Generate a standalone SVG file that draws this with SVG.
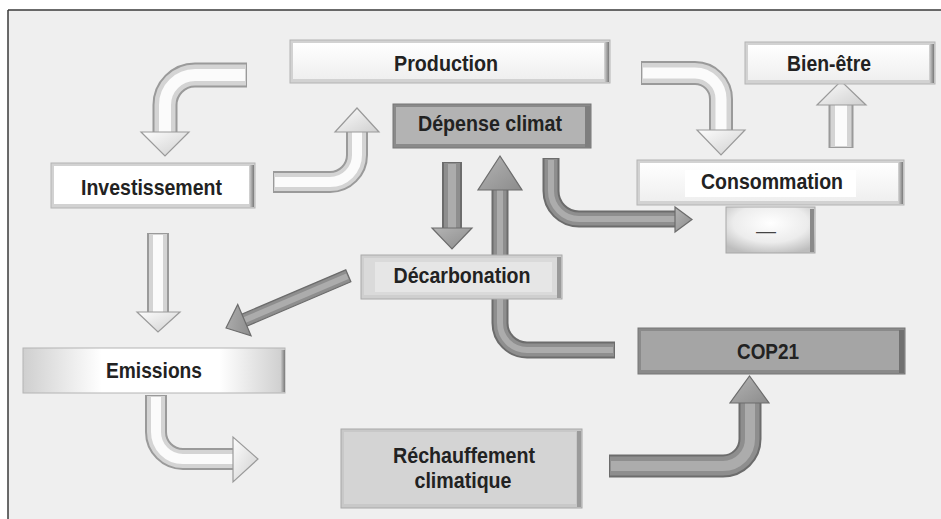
<svg xmlns="http://www.w3.org/2000/svg" width="941" height="519" viewBox="0 0 941 519">
<defs>
<linearGradient id="faceLight" x1="0" y1="0" x2="0" y2="1"><stop offset="0" stop-color="#ffffff"/><stop offset="1" stop-color="#efefef"/></linearGradient>
<linearGradient id="rightShade" x1="0" y1="0" x2="1" y2="0"><stop offset="0" stop-color="#d8d8d8"/><stop offset="1" stop-color="#7a7a7a"/></linearGradient>
<linearGradient id="emis" x1="0" y1="0" x2="1" y2="0"><stop offset="0" stop-color="#cfcfcf"/><stop offset="0.3" stop-color="#ffffff"/><stop offset="0.75" stop-color="#ffffff"/><stop offset="1" stop-color="#cdcdcd"/></linearGradient>
<radialGradient id="dashBox" cx="0.5" cy="0.35" r="0.7"><stop offset="0" stop-color="#ffffff"/><stop offset="0.6" stop-color="#ececec"/><stop offset="1" stop-color="#bdbdbd"/></radialGradient>
<linearGradient id="wHeadG" x1="0" y1="0" x2="1" y2="1"><stop offset="0" stop-color="#fdfdfd"/><stop offset="1" stop-color="#cfcfcf"/></linearGradient>
<linearGradient id="gHeadG" x1="0" y1="0" x2="1" y2="1"><stop offset="0" stop-color="#b4b4b4"/><stop offset="1" stop-color="#8c8c8c"/></linearGradient>
<style>
.lbl{font-family:"Liberation Sans",Arial,sans-serif;font-weight:bold;font-size:22px;fill:#222;text-anchor:middle}
.edgeL{fill:#d2d2d2;stroke:#b4b4b4;stroke-width:1}
.edgeD{fill:#8a8a8a;stroke:#767676;stroke-width:1}
.w1{fill:none;stroke:#9a9a9a}
.w2{fill:none;stroke:#d4d4d4}
.w3{fill:none;stroke:#fbfbfb}
.g1{fill:none;stroke:#6c6c6c}
.g2{fill:none;stroke:#8e8e8e}
.g3{fill:none;stroke:#acacac}
.wHead{fill:url(#wHeadG);stroke:#9a9a9a;stroke-width:1.2;stroke-linejoin:miter}
.gHead{fill:url(#gHeadG);stroke:#6c6c6c;stroke-width:1.2;stroke-linejoin:miter}
</style>
</defs>

<rect x="0" y="0" width="941" height="519" fill="#ffffff"/>
<rect x="8" y="10" width="933" height="509" fill="#efefef"/>
<line x1="8" y1="10" x2="941" y2="10" stroke="#3a3a3a" stroke-width="1.5"/>
<line x1="8" y1="10" x2="8" y2="519" stroke="#3a3a3a" stroke-width="1.5"/>

<g id="connectors">
  <!-- Production -> Investissement -->
  <g>
    <path class="w1" stroke-width="25" d="M247,75 H195 A30,30 0 0 0 165,105 V134"/>
    <path class="w2" stroke-width="21" d="M246,75 H195 A30,30 0 0 0 165,105 V134"/>
    <path class="w3" stroke-width="12" d="M245,75 H195 A30,30 0 0 0 165,105 V134"/>
    <polygon class="wHead" points="141,132 189,132 165,156"/>
  </g>
  <!-- Investissement -> Production -->
  <g>
    <path class="w1" stroke-width="22" d="M273,182 H330 A27,27 0 0 0 357,155 V131"/>
    <path class="w2" stroke-width="18" d="M274,182 H330 A27,27 0 0 0 357,155 V131"/>
    <path class="w3" stroke-width="10" d="M275,182 H330 A27,27 0 0 0 357,155 V131"/>
    <polygon class="wHead" points="335,132 379,132 357,108"/>
  </g>
  <!-- Production -> Consommation -->
  <g>
    <path class="w1" stroke-width="24" d="M641,73 H695 A26,26 0 0 1 721,99 V132"/>
    <path class="w2" stroke-width="20" d="M642,73 H695 A26,26 0 0 1 721,99 V132"/>
    <path class="w3" stroke-width="11" d="M643,73 H695 A26,26 0 0 1 721,99 V132"/>
    <polygon class="wHead" points="697,130 745,130 721,155"/>
  </g>
  <!-- Consommation -> Bien-etre -->
  <g>
    <path class="w1" stroke-width="25" d="M841,148 V103"/>
    <path class="w2" stroke-width="21" d="M841,147 V103"/>
    <path class="w3" stroke-width="12" d="M841,146 V103"/>
    <polygon class="wHead" points="817,105 866,105 841,81"/>
  </g>
  <!-- Investissement -> Emissions -->
  <g>
    <path class="w1" stroke-width="22" d="M158,233 V314"/>
    <path class="w2" stroke-width="18" d="M158,234 V314"/>
    <path class="w3" stroke-width="10" d="M158,235 V314"/>
    <polygon class="wHead" points="137,312 180,312 158,332"/>
  </g>
  <!-- Emissions -> Rechauffement -->
  <g>
    <path class="w1" stroke-width="22" d="M156,395 V432 A27,27 0 0 0 183,459 H235"/>
    <path class="w2" stroke-width="18" d="M156,396 V432 A27,27 0 0 0 183,459 H235"/>
    <path class="w3" stroke-width="10" d="M156,397 V432 A27,27 0 0 0 183,459 H235"/>
    <polygon class="wHead" points="233,437 233,482 258,459"/>
  </g>
  <!-- Depense climat -> Decarbonation -->
  <g>
    <path class="g1" stroke-width="20" d="M452,162 V230"/>
    <path class="g2" stroke-width="16" d="M452,163 V230"/>
    <path class="g3" stroke-width="8" d="M452,164 V230"/>
    <polygon class="gHead" points="432,228 472,228 452,249"/>
  </g>
  <!-- COP21 -> Depense climat -->
  <g>
    <path class="g1" stroke-width="17" d="M615,350 H527 A27,27 0 0 1 500,323 V188"/>
    <path class="g2" stroke-width="13" d="M614,350 H527 A27,27 0 0 1 500,323 V188"/>
    <path class="g3" stroke-width="6" d="M613,350 H527 A27,27 0 0 1 500,323 V188"/>
    <polygon class="gHead" points="478,190 522,190 500,156"/>
  </g>
  <!-- Depense climat -> Consommation -->
  <g>
    <path class="g1" stroke-width="17" d="M551,158 V191 A28,28 0 0 0 579,219 H677"/>
    <path class="g2" stroke-width="13" d="M551,159 V191 A28,28 0 0 0 579,219 H677"/>
    <path class="g3" stroke-width="6" d="M551,160 V191 A28,28 0 0 0 579,219 H677"/>
    <polygon class="gHead" points="675,207 675,232 692,219.5"/>
  </g>
  <!-- Decarbonation -> Emissions -->
  <g transform="translate(226,328) rotate(-23.1)">
    <rect x="17" y="-6.5" width="116" height="13" fill="#8e8e8e" stroke="#6c6c6c" stroke-width="1.2"/>
    <rect x="17" y="-3" width="115" height="6" fill="#acacac"/>
    <polygon class="gHead" points="0,0 20,-17 20,17"/>
  </g>
  <!-- Rechauffement -> COP21 -->
  <g>
    <path class="g1" stroke-width="23" d="M609,466 H723 A27,27 0 0 0 750,439 V401"/>
    <path class="g2" stroke-width="19" d="M610,466 H723 A27,27 0 0 0 750,439 V401"/>
    <path class="g3" stroke-width="10" d="M611,466 H723 A27,27 0 0 0 750,439 V401"/>
    <polygon class="gHead" points="730,403 769,403 749.5,376"/>
  </g>
</g>

<g id="node-production">
  <rect class="edgeL" x="290" y="40" width="320" height="43"/>
  <rect x="293" y="43" width="311" height="36" fill="url(#faceLight)"/>
  <rect x="604" y="42" width="5" height="40" fill="url(#rightShade)"/>
  <text class="lbl" x="446" y="71" textLength="104" lengthAdjust="spacingAndGlyphs">Production</text>
</g>

<g id="node-depense">
  <rect class="edgeD" x="393" y="104" width="198" height="44"/>
  <rect x="396" y="107" width="189" height="37" fill="#b3b3b3"/>
  <rect x="585" y="106" width="5" height="41" fill="#7e7e7e"/>
  <text class="lbl" x="490" y="131" textLength="144" lengthAdjust="spacingAndGlyphs">Dépense climat</text>
</g>

<g id="node-bienetre">
  <rect class="edgeL" x="745" y="42" width="190" height="42"/>
  <rect x="748" y="45" width="181" height="35" fill="url(#faceLight)"/>
  <rect x="929" y="44" width="5" height="39" fill="url(#rightShade)"/>
  <text class="lbl" x="829" y="71" textLength="84" lengthAdjust="spacingAndGlyphs">Bien-être</text>
</g>

<g id="node-consommation">
  <rect class="edgeL" x="637" y="160" width="267" height="45"/>
  <rect x="640" y="163" width="258" height="38" fill="url(#faceLight)"/>
  <rect x="685" y="170" width="171" height="27" fill="#ffffff"/>
  <rect x="898" y="162" width="5" height="42" fill="url(#rightShade)"/>
  <text class="lbl" x="772" y="189" textLength="142" lengthAdjust="spacingAndGlyphs">Consommation</text>
</g>

<g id="node-dash">
  <rect x="726" y="207" width="89" height="46" fill="url(#dashBox)" stroke="#a8a8a8" stroke-width="1"/>
  <rect x="810" y="209" width="4" height="43" fill="#8a8a8a"/>
  <text class="lbl" x="766" y="238" style="font-weight:normal;fill:#444;font-size:20px">—</text>
</g>

<g id="node-investissement">
  <rect class="edgeL" x="51" y="163" width="204" height="45"/>
  <rect x="54" y="166" width="195" height="38" fill="#ffffff"/>
  <rect x="249" y="165" width="5" height="42" fill="url(#rightShade)"/>
  <text class="lbl" x="151.5" y="195" textLength="141" lengthAdjust="spacingAndGlyphs">Investissement</text>
</g>

<g id="node-emissions">
  <rect x="23" y="348" width="262" height="45" fill="url(#emis)" stroke="#b4b4b4" stroke-width="1"/>
  <rect x="280" y="350" width="5" height="42" fill="url(#rightShade)"/>
  <text class="lbl" x="154" y="378" textLength="96" lengthAdjust="spacingAndGlyphs">Emissions</text>
</g>

<g id="node-decarbonation">
  <rect x="361" y="255" width="201" height="44" fill="#cfcfcf" stroke="#aaaaaa" stroke-width="1"/>
  <rect x="364" y="258" width="193" height="37" fill="#dadada"/>
  <rect x="375" y="262" width="177" height="30" fill="#e6e6e6"/>
  <rect x="557" y="257" width="4" height="41" fill="#9a9a9a"/>
  <text class="lbl" x="462" y="283" textLength="137" lengthAdjust="spacingAndGlyphs">Décarbonation</text>
</g>

<g id="node-rechauffement">
  <rect x="341" y="429" width="241" height="79" fill="#c8c8c8" stroke="#a8a8a8" stroke-width="1"/>
  <rect x="344" y="432" width="232" height="72" fill="#d4d4d4"/>
  <rect x="577" y="431" width="4" height="76" fill="#9a9a9a"/>
  <text class="lbl" x="464" y="463" textLength="142" lengthAdjust="spacingAndGlyphs">Réchauffement</text>
  <text class="lbl" x="463" y="488" textLength="97" lengthAdjust="spacingAndGlyphs">climatique</text>
</g>

<g id="node-cop21">
  <rect class="edgeD" x="638" y="328" width="267" height="46"/>
  <rect x="641" y="331" width="258" height="39" fill="#a5a5a5"/>
  <rect x="899" y="330" width="5" height="43" fill="#707070"/>
  <text class="lbl" x="768" y="359" textLength="62" lengthAdjust="spacingAndGlyphs">COP21</text>
</g>
</svg>
